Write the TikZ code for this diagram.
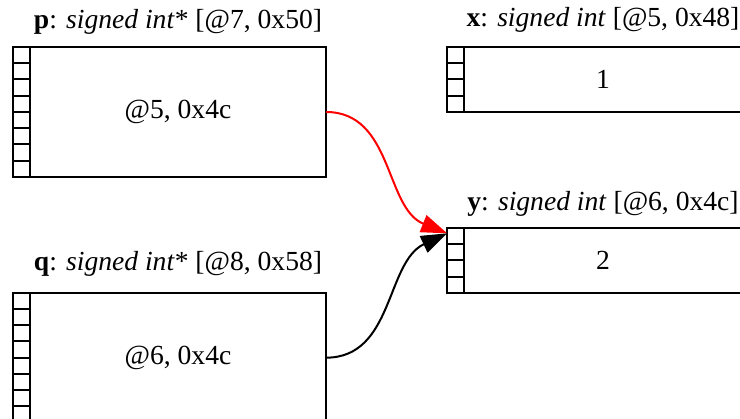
\documentclass[tikz,border=0pt]{standalone}
\usepackage{fontspec}
\setmainfont{Liberation Serif}
\usetikzlibrary{arrows.meta}

\tikzset{
  varfont/.style={font=\fontsize{27.6}{33}\selectfont},
  valbox/.style={draw,line width=2pt,inner sep=0pt,outer sep=0pt,varfont},
  memcell/.style={draw,line width=2pt,inner sep=0pt,outer sep=0pt,minimum width=16.7pt},
  varlabel/.style={anchor=base,inner sep=0pt,varfont},
  ptr/.style={line width=2pt,-{Triangle[length=26pt,width=18pt]}}
}

\begin{document}
\begin{tikzpicture}[x=1pt,y=1pt]

\useasboundingbox (0,0) rectangle (740,419) ;
\clip (0,0) rectangle (740,419) ;

% p
\node[varlabel] (p_lab) at (178,390) {\textbf{p}: \textit{signed int}* [@7, 0x50]} ;
\node[valbox,minimum width=296pt,minimum height=130pt] (p) at (178,307) {@5, 0x4c} ;
\foreach \i in {1,...,8}
  \node[memcell,minimum height=16.25pt] (p_\i) at (21.65,372-8.125-16.25*\i+16.25) {} ;

% x
\node[varlabel] (x_lab) at (603,392) {\textbf{x}: \textit{signed int} [@5, 0x48]} ;
\node[valbox,minimum width=278pt,minimum height=64.4pt] (x) at (603,339.5) {1} ;
\foreach \i in {1,...,4}
  \node[memcell,minimum height=16.1pt] (x_\i) at (455.5,371.7-8.05-16.1*\i+16.1) {} ;

% y
\node[varlabel] (y_lab) at (603,208.5) {\textbf{y}: \textit{signed int} [@6, 0x4c]} ;
\node[valbox,minimum width=278pt,minimum height=64.4pt] (y) at (603,158.5) {2} ;
\foreach \i in {1,...,4}
  \node[memcell,minimum height=16.1pt] (y_\i) at (455.5,190.7-8.05-16.1*\i+16.1) {} ;

% q
\node[varlabel] (q_lab) at (178,148) {\textbf{q}: \textit{signed int}* [@8, 0x58]} ;
\node[valbox,minimum width=296pt,minimum height=130pt] (q) at (178,61.3) {@6, 0x4c} ;
\foreach \i in {1,...,8}
  \node[memcell,minimum height=16.25pt] (q_\i) at (21.65,126.3-8.125-16.25*\i+16.25) {} ;

% pointers
\draw[ptr,red] (p.east) to[out=0,in=158] ([yshift=3pt]y_1.west) ;
\draw[ptr,black] (q.east) to[out=0,in=205] ([yshift=3pt]y_1.west) ;

\end{tikzpicture}
\end{document}
